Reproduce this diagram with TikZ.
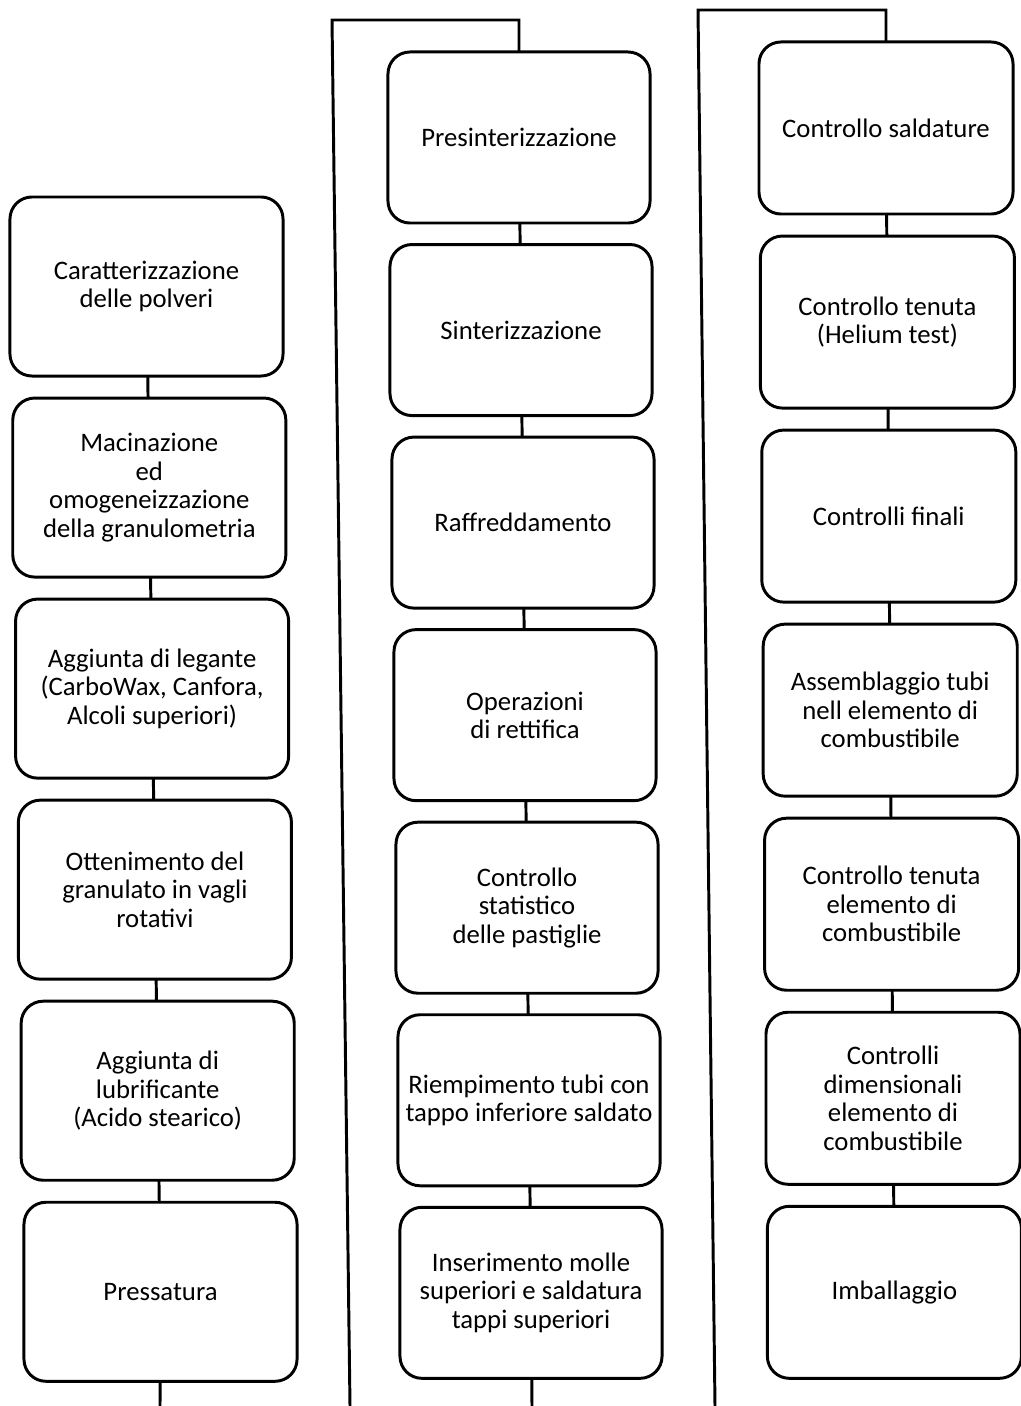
\documentclass[tikz,border=0pt]{standalone}
\usepackage{fontspec}
\setmainfont{Carlito}
\usetikzlibrary{positioning}

\begin{document}
\begin{tikzpicture}[
  x=0.025cm, y=-0.025cm,
  font=\fontsize{19}{20.2}\selectfont,
  stage/.style={draw, line width=2.1pt, outer sep=0pt, rounded corners=0.55cm, align=center, inner sep=4pt},
  colA/.style={stage, minimum width=6.825cm, minimum height=4.475cm},
  colB/.style={stage, minimum width=6.55cm, minimum height=4.275cm},
  colC/.style={stage, minimum width=6.35cm, minimum height=4.3cm},
  link/.style={line width=2.1pt}
]
\useasboundingbox (0,0) rectangle (1020,1406);

\node[colA] (p1) at (146.5,286.5) {Caratterizzazione\\delle polveri};
\node[colA, below=0.55cm of p1, xshift=0.07cm] (p2) {Macinazione\\ed\\omogeneizzazione\\della granulometria};
\node[colA, below=0.55cm of p2, xshift=0.07cm] (p3) {Aggiunta di legante\\(CarboWax, Canfora,\\Alcoli superiori)};
\node[colA, below=0.55cm of p3, xshift=0.07cm] (p4) {Ottenimento del\\granulato in vagli\\rotativi};
\node[colA, below=0.55cm of p4, xshift=0.07cm] (p5) {Aggiunta di\\lubrificante\\(Acido stearico)};
\node[colA, below=0.55cm of p5, xshift=0.07cm] (p6) {Pressatura};

\node[colB] (s1) at (519,137.5) {Presinterizzazione};
\node[colB, below=0.5375cm of s1, xshift=0.05cm] (s2) {Sinterizzazione};
\node[colB, below=0.5375cm of s2, xshift=0.05cm] (s3) {Raffreddamento};
\node[colB, below=0.5375cm of s3, xshift=0.05cm] (s4) {Operazioni\\di rettifica};
\node[colB, below=0.5375cm of s4, xshift=0.05cm] (s5) {Controllo\\statistico\\delle pastiglie};
\node[colB, below=0.5375cm of s5, xshift=0.05cm] (s6) {Riempimento tubi con\\tappo inferiore saldato};
\node[colB, below=0.5375cm of s6, xshift=0.05cm] (s7) {Inserimento molle\\superiori e saldatura\\tappi superiori};

\node[colC] (f1) at (886,128) {Controllo saldature};
\node[colC, below=0.55cm of f1, xshift=0.035cm] (f2) {Controllo tenuta\\(Helium test)};
\node[colC, below=0.55cm of f2, xshift=0.035cm] (f3) {Controlli finali};
\node[colC, below=0.55cm of f3, xshift=0.035cm] (f4) {Assemblaggio tubi\\nell elemento di\\combustibile};
\node[colC, below=0.55cm of f4, xshift=0.035cm] (f5) {Controllo tenuta\\elemento di\\combustibile};
\node[colC, below=0.55cm of f5, xshift=0.035cm] (f6) {Controlli\\dimensionali\\elemento di\\combustibile};
\node[colC, below=0.55cm of f6, xshift=0.035cm] (f7) {Imballaggio};

\coordinate (pend) at (160,1406);
\coordinate (sb) at (350,1406);
\coordinate (st) at (332,20);
\coordinate (send) at (532,1406);
\coordinate (fb) at (715,1406);
\coordinate (ft) at (698,10);

\foreach \a/\b in {p1/p2,p2/p3,p3/p4,p4/p5,p5/p6,
                   s1/s2,s2/s3,s3/s4,s4/s5,s5/s6,s6/s7,
                   f1/f2,f2/f3,f3/f4,f4/f5,f5/f6,f6/f7}
  \draw[link] (\a) -- (\b);

\draw[link] (p6) -- (pend);
\draw[link] (sb) -- (st) -| (s1.north);
\draw[link] (s7) -- (send);
\draw[link] (fb) -- (ft) -| (f1.north);
\end{tikzpicture}
\end{document}
